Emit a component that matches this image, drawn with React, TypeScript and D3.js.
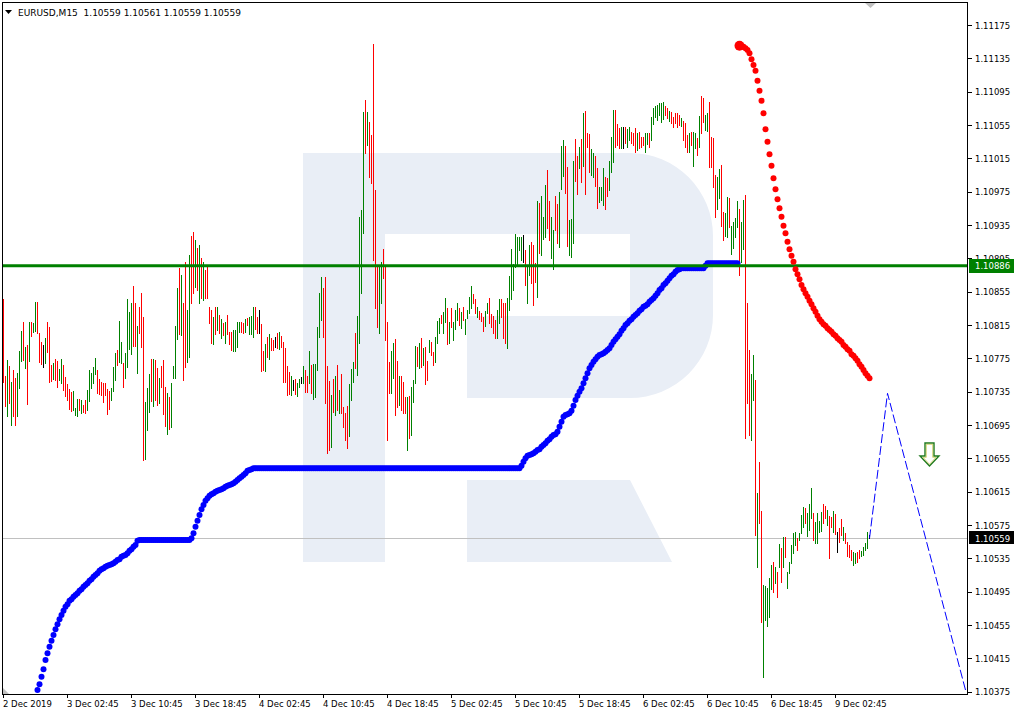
import React from "react";
import * as d3 from "d3";

// ---- data (prices expressed as points above 1.10000, 1 point = 0.00001) ----
const BASE = 1.1;
const PT = 1e-5;

const barHigh = [
  846,754,773,766,747,761,751,757,784,808,
  819,789,791,819,819,817,843,843,805,795,
  791,799,819,813,767,769,774,772,762,774,
  767,753,744,738,735,736,715,726,726,725,
  719,725,737,761,757,765,775,761,750,747,
  745,745,738,736,739,765,781,785,820,795,
  769,781,846,831,841,862,841,814,837,853,
  825,723,739,756,774,774,773,763,751,766,
  773,741,733,729,745,766,814,859,883,875,
  841,891,833,899,922,927,917,907,911,895,
  891,881,887,837,833,825,837,837,827,822,
  817,819,827,807,807,809,809,819,819,819,
  817,822,823,825,826,837,837,825,833,816,
  784,792,801,804,799,797,801,805,807,802,
  795,787,766,759,754,749,750,745,750,753,
  766,761,754,784,767,768,768,813,853,873,
  859,873,766,748,731,750,754,767,737,756,
  717,709,718,744,762,771,805,826,945,953,
  1071,1085,1071,1059,1043,1152,977,885,885,891,
  906,885,819,771,784,793,798,772,754,754,
  747,729,729,730,741,749,790,789,793,799,
  787,789,772,797,795,783,801,820,823,827,
  831,847,835,819,835,819,833,841,835,831,
  837,822,833,849,862,852,846,837,832,829,
  825,832,841,847,828,826,821,833,846,846,
  841,841,847,874,906,888,924,921,921,921,
  923,905,886,911,915,911,889,964,961,970,
  945,983,1001,964,945,929,970,960,975,1030,
  1037,1030,1005,941,942,1012,1038,1018,1029,1038,
  1069,1072,1045,1044,1026,1021,1018,1003,981,981,
  1003,993,991,1012,1041,1073,1073,1056,1051,1053,
  1053,1053,1050,1053,1047,1045,1051,1045,1047,1041,
  1041,1045,1045,1045,1065,1075,1078,1079,1081,1081,
  1083,1078,1075,1072,1071,1065,1069,1069,1067,1063,
  1060,1057,1043,1045,1047,1047,1045,1039,1066,1090,
  1087,1067,1069,1083,1041,1039,995,993,1002,1007,
  951,949,969,967,934,939,943,964,954,939,
  965,971,841,785,756,779,749,613,651,592,
  503,502,499,511,527,531,525,519,552,547,
  561,561,519,531,551,565,567,559,565,587,
  597,595,589,600,619,589,579,589,580,591,
  600,598,593,586,585,592,588,567,571,582,
  573,565,555,551,545,543,541,543,545,544,
  549,553,567,563,
];

const barLow = [
  747,718,706,721,695,706,695,706,739,772,
  773,763,720,772,802,807,808,805,771,768,
  765,769,783,747,748,750,749,741,749,745,
  737,730,725,714,712,713,707,706,713,709,
  711,709,713,724,739,745,756,733,732,731,
  723,731,708,714,725,736,749,767,771,769,
  741,751,765,786,780,790,790,757,805,789,
  653,654,689,711,724,718,725,719,721,741,
  708,694,684,690,693,751,751,798,804,803,
  749,765,771,777,841,853,861,857,841,847,
  845,847,847,817,793,792,804,809,805,799,
  803,793,804,792,785,784,784,789,807,807,
  805,807,815,804,804,801,810,805,805,760,
  761,760,777,774,785,785,789,787,786,789,
  747,747,731,732,731,737,732,730,741,745,
  745,735,735,745,733,726,729,761,801,821,
  801,721,661,665,669,711,707,713,709,709,
  693,677,667,682,725,747,763,755,793,853,
  925,1021,1031,993,985,893,835,813,805,841,
  871,797,677,733,733,751,707,717,719,713,
  709,709,665,679,683,723,745,766,763,765,
  767,744,749,783,779,767,771,793,805,817,
  805,819,792,793,813,797,810,821,815,811,
  821,804,823,829,835,841,829,825,822,820,
  808,814,829,817,813,805,799,799,817,825,
  799,793,787,833,846,857,885,887,905,893,
  891,863,841,875,865,839,867,849,901,899,
  918,921,931,917,895,882,929,913,909,978,
  994,973,910,899,897,913,988,972,1003,987,
  1006,972,1029,999,995,993,982,955,963,965,
  959,954,970,977,999,1011,1029,1031,1027,1027,
  1027,1033,1029,1037,1033,1031,1023,1025,1027,1029,
  1031,1023,1032,1029,1037,1056,1065,1061,1067,1059,
  1062,1067,1063,1060,1057,1053,1057,1053,1055,1054,
  1037,1029,1023,1023,1031,1006,1027,1019,1029,1045,
  1059,1049,1048,1005,1005,981,945,954,967,934,
  917,922,921,933,900,907,921,933,875,891,
  906,679,721,683,677,725,563,525,577,459,
  393,461,454,465,498,495,505,489,525,507,
  525,537,499,517,529,541,551,545,557,565,
  573,577,562,569,583,557,553,553,567,568,
  577,583,575,535,573,567,564,543,555,563,
  557,553,538,537,533,527,529,531,535,538,
  539,545,547,559,
];

// r = bearish bar, g = bullish bar, k = unchanged
const barDir =
  "rrgrgrrggg" + "rgrgrggrrr" + "kgrrrgrrgg" + "rrrrrgggrg" + "rrgggggrrr" +
  "rrrrgggrgg" + "rggggrrgrr" + "rgggrgrrgr" + "rrgrggggrg" + "rrggrrgrgr" +
  "grrrrgrgrg" + "rgrrrggggr" + "rgrgggrrkr" + "rgrgrrkrgr" + "rrrrgkrggk" +
  "grrgrggggg" + "rrrrgrgrgr" + "rrrgggrggg" + "grgrrrrrgg" + "rrrrggrrgr" +
  "rrgrgggrgr" + "grrgrrgggr" + "ggrgrgggrg" + "rggggrrgrr" + "rggrrrrggr" +
  "rrgggggggg" + "krggrrrgrg" + "ggrrggrrgg" + "grrgggrrgr" + "grrrggrrgg" +
  "grrgggrrrg" + "krggrrrgrr" + "rggrgggggg" + "grrgrrrrrg" + "rrrgrggrgr" +
  "rggrrrrggr" + "rggrggggrg" + "grrrggrgrr" + "gggggrgrgr" + "grgggggrgg" +
  "grgggrgggg" + "rrgrrgrkrr" + "grrrrggrrg" + "gggk";

// blue dotted indicator, one value per bar from bar 17 to bar 367
const blueStart = 17;
const blueValues = [
  377,384,393,402,413,421,429,436,443,450,
  456,462,467,472,477,480,484,486,489,491,
  493,496,498,501,503,505,508,510,513,515,
  517,520,522,523,525,526,527,528,529,531,
  533,534,537,538,539,541,544,546,549,551,
  556,557,557,557,557,557,557,557,557,557,
  557,557,557,557,557,557,557,557,557,557,
  557,557,557,557,557,557,557,559,565,573,
  580,587,594,599,604,607,610,612,613,615,
  616,617,618,619,621,622,623,624,625,627,
  629,631,633,635,637,640,641,642,643,643,
  643,643,643,643,643,643,643,643,643,643,
  643,643,643,643,643,643,643,643,643,643,
  643,643,643,643,643,643,643,643,643,643,
  643,643,643,643,643,643,643,643,643,643,
  643,643,643,643,643,643,643,643,643,643,
  643,643,643,643,643,643,643,643,643,643,
  643,643,643,643,643,643,643,643,643,643,
  643,643,643,643,643,643,643,643,643,643,
  643,643,643,643,643,643,643,643,643,643,
  643,643,643,643,643,643,643,643,643,643,
  643,643,643,643,643,643,643,643,643,643,
  643,643,643,643,643,643,643,643,643,643,
  643,643,643,643,643,643,643,643,643,643,
  643,643,646,651,655,658,659,660,661,663,
  665,666,669,671,673,676,678,681,683,684,
  687,693,699,705,707,708,709,712,718,725,
  730,735,739,745,751,757,763,767,771,774,
  777,779,780,781,783,785,787,791,795,798,
  801,804,808,811,815,817,820,822,825,827,
  829,832,834,837,838,840,843,845,847,850,
  853,857,859,863,865,868,871,874,876,879,
  881,882,883,883,883,883,883,883,883,883,
  883,883,883,883,886,889,889,889,889,889,
  889,889,889,889,889,889,889,889,889,889,
  889,
];

// red dotted indicator, one value per bar from bar 368 to bar 433
const redStart = 368;
const redValues = [
  1150,1149,1149,1147,1145,1141,1134,1127,1120,1108,
  1096,1084,1069,1050,1035,1020,1006,991,978,966,
  955,945,934,925,915,906,898,891,882,876,
  870,863,858,853,849,844,840,835,831,826,
  822,819,816,814,811,809,807,804,802,799,
  797,795,791,789,786,784,780,778,775,772,
  768,765,761,757,754,751,
];

// hand-drawn forecast (bar index, price)
const forecastBars = [433, 442, 481];
const forecastPrices = [1.10559, 1.10733, 1.10377];

const priceTicks = [
  1.11175, 1.11135, 1.11095, 1.11055, 1.11015, 1.10975, 1.10935, 1.10895,
  1.10855, 1.10815, 1.10775, 1.10735, 1.10695, 1.10655, 1.10615, 1.10575,
  1.10535, 1.10495, 1.10455, 1.10415, 1.10375,
];

const timeLabels = [
  "2 Dec 2019", "3 Dec 02:45", "3 Dec 10:45", "3 Dec 18:45", "4 Dec 02:45",
  "4 Dec 10:45", "4 Dec 18:45", "5 Dec 02:45", "5 Dec 10:45", "5 Dec 18:45",
  "6 Dec 02:45", "6 Dec 10:45", "6 Dec 18:45", "9 Dec 02:45",
];
const timeLabelBars = [0, 32, 64, 96, 128, 160, 192, 224, 256, 288, 320, 352, 384, 416];

const levelPrice = 1.10886;
const bidPrice = 1.10559;
const titleText = "EURUSD,M15  1.10559 1.10561 1.10559 1.10559";

const FONT = "'DejaVu Sans', Tahoma, sans-serif";

export default function App() {
  const x = d3.scaleLinear().domain([0, 1]).range([3, 5]);
  const y = d3.scaleLinear().domain([1.10375, 1.11175]).range([691.67, 25]);
  const fmt = d3.format(".5f");
  const p = (v: number) => BASE + v * PT;

  const left = 2.5, top = 2.5, right = 967.5, bottom = 694.5;

  const dirColor: Record<string, string> = { r: "#ff0000", g: "#008000", k: "#000000" };

  const forecastLine = d3
    .line<number>()
    .x((_, i) => x(forecastBars[i]) + 0.5)
    .y((v) => y(v));

  const watermark =
    "M303,153 H630 A83,83 0 0 1 713,236 V315 A83,83 0 0 1 630,398 H467 V316 H630 V234 H385 V562 H303 Z " +
    "M467,480 H630 L672,562 H467 Z";

  const levelY = Math.round(y(levelPrice));
  const bidY = Math.round(y(bidPrice));

  return (
    <svg
      width={1016}
      height={715}
      style={{ position: "absolute", left: 0, top: 0, display: "block", background: "#fff" }}
      fontFamily={FONT}
    >
      <defs>
        <clipPath id="plot">
          <rect x={3} y={3} width={964} height={691} />
        </clipPath>
        <clipPath id="aboveLevelBox">
          <rect x={968} y={0} width={48} height={levelY - 7} />
        </clipPath>
      </defs>
      <rect x={0} y={0} width={1016} height={715} fill="#ffffff" />

      <g clipPath="url(#plot)">
        <path d={watermark} fill="#e9eef6" />

        <line x1={left} x2={right} y1={bidY + 0.5} y2={bidY + 0.5} stroke="#c0c0c0" strokeWidth={1} />

        <g shapeRendering="crispEdges">
          {barHigh.map((h, i) => (
            <line
              key={i}
              x1={x(i) + 0.5}
              x2={x(i) + 0.5}
              y1={y(p(h))}
              y2={y(p(barLow[i])) + 1}
              stroke={dirColor[barDir[i]] || "#000"}
              strokeWidth={1}
            />
          ))}
        </g>

        {blueValues.map((v, k) => (
          <circle key={"b" + k} cx={x(blueStart + k) + 0.5} cy={y(p(v))} r={3} fill="#0000ff" />
        ))}

        <line x1={left} x2={right} y1={y(levelPrice)} y2={y(levelPrice)} stroke="#008000" strokeWidth={3} />

        {redValues.map((v, k) => (
          <circle key={"r" + k} cx={x(redStart + k) + 0.5} cy={y(p(v))} r={k === 0 ? 5 : 3} fill="#ff0000" />
        ))}

        <path d={forecastLine(forecastPrices) || ""} fill="none" stroke="#0000ff" strokeWidth={1} strokeDasharray="9,3" />

        <path
          d="M925,443 H934 V456 H939 L929.5,466 L920,456 H925 Z"
          fill="#ffffff"
          stroke="#1f7a1f"
          strokeWidth={1.4}
        />
        <path
          d="M926.3,444.3 H932.7 V457.3 H936 L929.5,464.3 L923,457.3 H926.3 Z"
          fill="none"
          stroke="#b8b820"
          strokeWidth={0.6}
        />

        <polygon points="3,688 3,694 9,694" fill="#c0c0c0" />
      </g>

      {/* chart shift marker */}
      <polygon points="864,2 877,2 870.5,8" fill="#c0c0c0" />

      {/* frame */}
      <rect x={left} y={top} width={right - left} height={bottom - top} fill="none" stroke="#000" strokeWidth={1} shapeRendering="crispEdges" />

      {/* title */}
      <polygon points="5,10 12,10 8.5,14" fill="#000" />
      <text x={18} y={16} fontSize={9} fill="#000" style={{ whiteSpace: "pre" }}>
        {titleText}
      </text>

      {/* price axis */}
      {priceTicks.map((t) => {
        const ty = y(t);
        const hidden = Math.abs(ty - y(levelPrice)) < 12;
        return (
          <g key={t}>
            <line x1={968} x2={972} y1={Math.round(ty) + 0.5} y2={Math.round(ty) + 0.5} stroke="#000" shapeRendering="crispEdges" />
            <text
              x={975}
              y={ty + 3.5}
              fontSize={8.5}
              fill="#000"
              clipPath={hidden ? "url(#aboveLevelBox)" : undefined}
            >
              {fmt(t)}
            </text>
          </g>
        );
      })}

      <rect x={969} y={levelY - 7} width={45} height={14} fill="#008000" />
      <text x={975} y={y(levelPrice) + 3.5} fontSize={8.5} fill="#ffffff">
        {fmt(levelPrice)}
      </text>

      <rect x={969} y={bidY - 7} width={45} height={13} fill="#000000" />
      <text x={975} y={y(bidPrice) + 3.5} fontSize={8.5} fill="#ffffff">
        {fmt(bidPrice)}
      </text>

      {/* time axis */}
      {timeLabelBars.map((b, i) => (
        <g key={b}>
          <line x1={x(b) + 0.5} x2={x(b) + 0.5} y1={694} y2={698} stroke="#000" shapeRendering="crispEdges" />
          <text x={x(b)} y={707} fontSize={8.5} fill="#000">
            {timeLabels[i]}
          </text>
        </g>
      ))}
    </svg>
  );
}
